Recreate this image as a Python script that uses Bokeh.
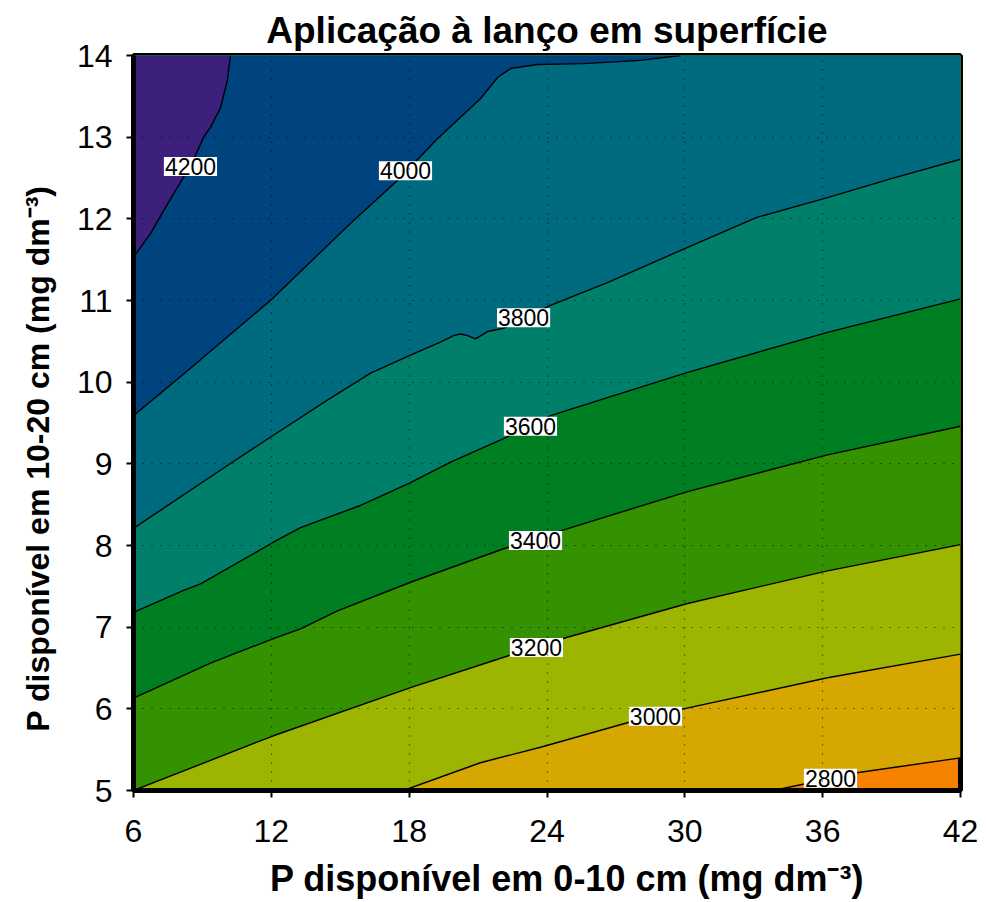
from bokeh.plotting import figure
from bokeh.models import Range1d, FixedTicker
from bokeh.core.properties import value
from bokeh.embed import file_html
from bokeh.resources import INLINE

# Axis extents and ticks (P in mg dm-3)
X_MIN, X_MAX = 6, 42
Y_MIN, Y_MAX = 5, 14
x_ticks = [6, 12, 18, 24, 30, 36, 42]
y_ticks = [5, 6, 7, 8, 9, 10, 11, 12, 13, 14]

# Yield isolines (kg/ha), each traced from its low-left entry to its exit
iso_levels = [2800, 3000, 3200, 3400, 3600, 3800, 4000, 4200]

iso_2800_x = [33.86, 37.56, 42.0]
iso_2800_y = [5.0, 5.22, 5.40]

iso_3000_x = [17.75, 21.10, 23.72, 27.50, 29.94, 36.21, 42.0]
iso_3000_y = [5.0, 5.34, 5.53, 5.83, 6.00, 6.38, 6.67]

iso_3200_x = [6.0, 12.09, 18.06, 22.32, 24.81, 30.12, 36.21, 42.0]
iso_3200_y = [5.0, 5.67, 6.26, 6.65, 6.87, 7.29, 7.69, 8.01]

iso_3400_x = [6.0, 9.35, 12.09, 13.27, 14.88, 18.06, 22.11, 24.59, 30.12, 36.21, 42.0]
iso_3400_y = [6.13, 6.56, 6.86, 6.98, 7.20, 7.55, 7.96, 8.18, 8.66, 9.11, 9.46]

iso_3600_x = [6.0, 8.18, 8.92, 12.09, 13.27, 14.71, 15.88, 18.06, 19.80, 22.11, 24.15, 30.12, 36.21, 42.0]
iso_3600_y = [7.18, 7.45, 7.53, 8.04, 8.22, 8.37, 8.49, 8.77, 9.02, 9.31, 9.59, 10.12, 10.61, 11.02]

iso_3800_x = [6.0, 10.09, 12.09, 14.44, 16.32, 18.06, 19.36, 19.93, 20.23, 20.54, 20.89, 21.41,
              22.11, 24.15, 26.63, 30.12, 33.16, 36.21, 38.95, 42.0]
iso_3800_y = [8.21, 8.98, 9.35, 9.78, 10.11, 10.33, 10.49, 10.57, 10.59, 10.57, 10.53, 10.62,
              10.66, 10.94, 11.22, 11.65, 12.02, 12.26, 12.49, 12.73]

iso_4000_x = [6.0, 8.35, 11.96, 15.58, 17.49, 19.23, 21.10, 21.85, 22.41, 23.59, 25.59, 28.07, 29.81]
iso_4000_y = [9.59, 10.14, 11.00, 11.98, 12.47, 12.98, 13.47, 13.73, 13.84, 13.89, 13.90, 13.94, 14.0]

iso_4200_x = [6.0, 6.74, 7.31, 8.18, 8.70, 9.05, 9.35, 9.79, 10.08, 10.22]
iso_4200_y = [11.53, 11.82, 12.10, 12.51, 12.78, 13.0, 13.12, 13.36, 13.69, 14.0]

iso_x = [iso_2800_x, iso_3000_x, iso_3200_x, iso_3400_x, iso_3600_x, iso_3800_x, iso_4000_x, iso_4200_x]
iso_y = [iso_2800_y, iso_3000_y, iso_3200_y, iso_3400_y, iso_3600_y, iso_3800_y, iso_4000_y, iso_4200_y]

# Band colours: below 2800, then one per band above each level
band_below = "#f68200"
band_colors = ["#d6a700", "#9db500", "#349200", "#007f22", "#00806a",
               "#006a7e", "#00447f", "#3d207c"]

# Inline level labels
label_x = [36.34, 28.72, 23.54, 23.50, 23.28, 22.98, 17.84, 8.48]
label_y = [5.15, 5.91, 6.75, 8.06, 9.46, 10.79, 12.59, 12.64]
label_text = ["2800", "3000", "3200", "3400", "3600", "3800", "4000", "4200"]

W = X_MAX - X_MIN
H = Y_MAX - Y_MIN
PERIM = 2 * (W + H)
corners = [(X_MIN, Y_MIN), (X_MAX, Y_MIN), (X_MAX, Y_MAX), (X_MIN, Y_MAX)]


def boundary_pos(x, y):
    """Counter-clockwise distance along the frame from the lower-left corner."""
    eps = 1e-9
    if abs(y - Y_MIN) < eps:
        return x - X_MIN
    if abs(x - X_MAX) < eps:
        return W + (y - Y_MIN)
    if abs(y - Y_MAX) < eps:
        return W + H + (X_MAX - x)
    return 2 * W + H + (Y_MAX - y)


def region_above(xs, ys):
    """Polygon of the part of the frame lying on the high side of an isoline."""
    s_start = boundary_pos(xs[0], ys[0])
    s_end = boundary_pos(xs[-1], ys[-1])
    if s_start <= s_end:
        s_start += PERIM
    extra = []
    for cx, cy in corners:
        s = boundary_pos(cx, cy)
        for cand in (s, s + PERIM):
            if s_end < cand < s_start:
                extra.append((cand, cx, cy))
    extra.sort()
    px = list(xs) + [c[1] for c in extra]
    py = list(ys) + [c[2] for c in extra]
    return px, py


poly_x, poly_y = [], []
for xs, ys in zip(iso_x, iso_y):
    px, py = region_above(xs, ys)
    poly_x.append(px)
    poly_y.append(py)

p = figure(width=986, height=902, output_backend="svg", toolbar_location=None,
           x_range=Range1d(X_MIN, X_MAX), y_range=Range1d(Y_MIN, Y_MAX),
           min_border_left=133, min_border_right=26, min_border_top=55,
           min_border_bottom=112)

p.background_fill_color = band_below
p.border_fill_color = "white"
p.outline_line_color = "black"
p.outline_line_width = 5

p.patches(poly_x, poly_y, fill_color=band_colors, line_color=None)
p.multi_line(iso_x, iso_y, line_color="black", line_width=1.4)

p.text(label_x, label_y, text=label_text, text_align="center", text_baseline="middle",
       text_font=value("Liberation Sans"), text_font_size="23px", text_color="black",
       background_fill_color="white", padding=1)

# Title
p.title.text = "Aplicação à lanço em superfície"
p.title.align = "center"
p.title.text_font = "Liberation Sans"
p.title.text_font_style = "bold"
p.title.text_font_size = "37px"
p.title.text_color = "black"
p.title.standoff = 10

# Axes
p.xaxis.ticker = FixedTicker(ticks=x_ticks)
p.yaxis.ticker = FixedTicker(ticks=y_ticks)
# leading / trailing no-break spaces shift the axis titles along their axes
p.xaxis.axis_label = "\u00a0" * 4 + "P disponível em 0-10 cm (mg dm⁻³)"
p.yaxis.axis_label = "P disponível em 10-20 cm (mg dm⁻³)" + "\u00a0" * 8
for ax in (p.xaxis[0], p.yaxis[0]):
    ax.axis_line_color = "black"
    ax.axis_line_width = 5
    ax.major_tick_line_color = "black"
    ax.major_tick_line_width = 2
    ax.major_tick_out = 7
    ax.major_tick_in = 0
    ax.minor_tick_line_color = None
    ax.major_label_text_font = "Liberation Sans"
    ax.major_label_text_font_size = "32px"
    ax.major_label_text_color = "black"
    ax.axis_label_text_font = "Liberation Sans"
    ax.axis_label_text_font_style = "bold"
    ax.axis_label_text_color = "black"
p.xaxis.major_label_standoff = 22
p.yaxis.major_label_standoff = 14
p.xaxis.axis_label_text_font_size = "36px"
p.yaxis.axis_label_text_font_size = "32px"
p.xaxis.axis_label_standoff = 13
p.yaxis.axis_label_standoff = 18
p.yaxis.major_label_orientation = "horizontal"

# Dotted reference grid drawn over the filled bands
p.xgrid.ticker = FixedTicker(ticks=x_ticks[1:-1])
p.ygrid.ticker = FixedTicker(ticks=y_ticks[1:-1])
for g in (p.xgrid[0], p.ygrid[0]):
    g.grid_line_color = "black"
    g.grid_line_alpha = 0.8
    g.grid_line_width = 1.2
    g.grid_line_dash = "1 8"
    g.level = "overlay"

open("out.html", "w").write(file_html(p, INLINE))
